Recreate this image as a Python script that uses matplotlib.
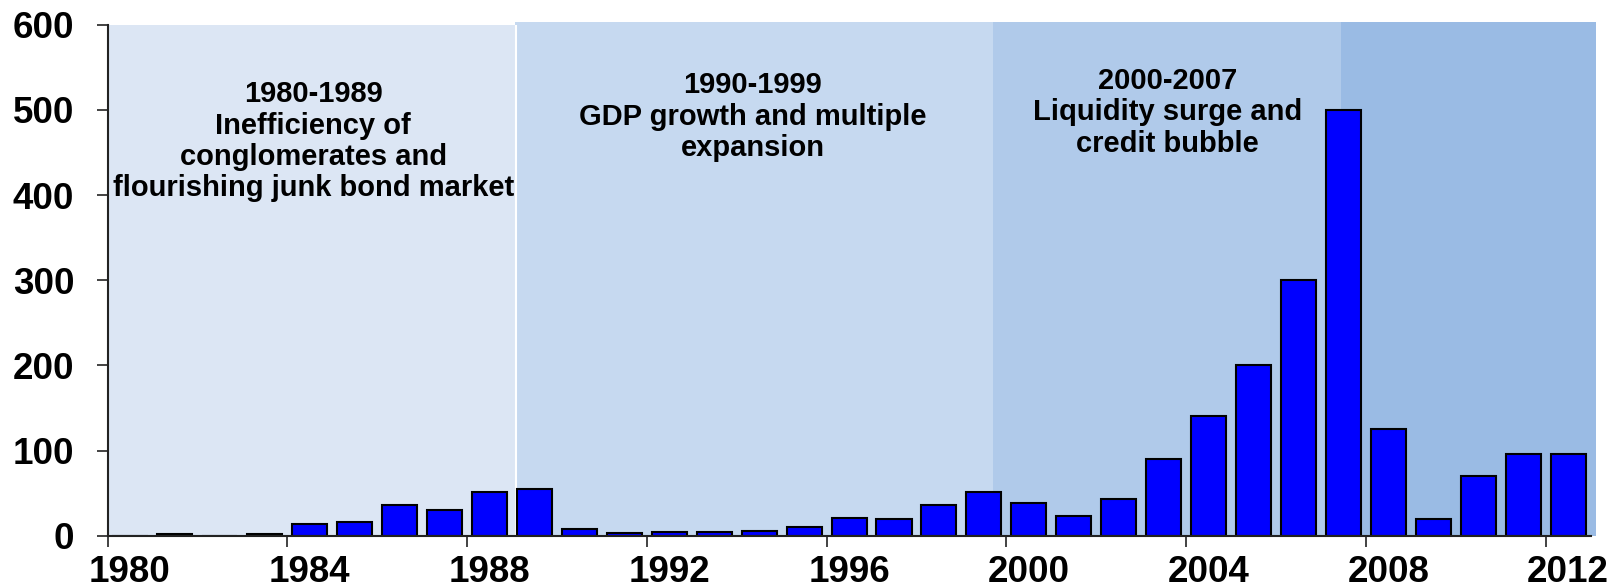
import matplotlib

matplotlib.use("Agg")
import matplotlib.pyplot as plt

plt.rcParams["font.family"] = ["Liberation Sans", "DejaVu Sans"]
plt.rcParams["font.weight"] = "bold"

# annual values, 1980-2012
years = list(range(1980, 2013))
values = [0, 2, 0, 2, 14, 16, 36, 30, 51, 55,
          8, 3, 4, 4, 6, 10, 21, 19, 36, 51,
          38, 23, 43, 90, 141, 200, 300, 500, 125, 20,
          70, 96, 96]

tick_years = list(range(1980, 2013, 4))

# shaded periods (edges)
period_edges = [1979.5, 1988.56, 1999.21, 2006.95, 2012.63]
period_colors = ["#DCE6F4", "#C6D9F0", "#B0CAEA", "#9ABBE4"]
period_labels = [
    "1980-1989\nInefficiency of\nconglomerates and\nflourishing junk bond market",
    "1990-1999\nGDP growth and multiple\nexpansion",
    "2000-2007\nLiquidity surge and\ncredit bubble",
]
label_pos = [(1984.08, 463), (1993.86, 492), (2003.08, 497)]

fig = plt.figure(figsize=(16.12, 5.88), dpi=100)
ax = fig.add_axes([0.0667, 0.089, 0.92, 0.869])

for i, c in enumerate(period_colors):
    top = 600 if i == 0 else 603
    ax.fill_between([period_edges[i], period_edges[i + 1]], 0, top,
                    color=c, lw=0, zorder=0, clip_on=False)
# thin white gap between first two periods
ax.axvline(period_edges[1] + 0.02, ymax=1.0, color="white", lw=1.5, zorder=0.5)

ax.bar(years, values, width=0.78, color="#0000FF", edgecolor="black",
       linewidth=1.5, zorder=2)

for (x, y), txt in zip(label_pos, period_labels):
    ax.text(x, y, txt, ha="center", va="center", fontsize=21,
            fontweight="bold", linespacing=1.15, zorder=3)

ax.set_xlim(1979.5, 2012.5)
ax.set_ylim(0, 600)
ax.set_yticks(range(0, 601, 100))
# labels sit on the bars, tick marks sit between categories
ax.set_xticks(tick_years)
ax.set_xticklabels([str(y) for y in tick_years])
ax.set_xticks([y - 0.5 for y in tick_years], minor=True)

ax.tick_params(axis="both", labelsize=26.5, direction="out", length=8,
               width=1.2, color="#222222")
ax.tick_params(axis="y", pad=16)
ax.tick_params(axis="x", which="major", length=0, pad=14)
ax.tick_params(axis="x", which="minor", length=8, width=1.2,
               color="#222222", direction="out")
for lab in ax.get_xticklabels() + ax.get_yticklabels():
    lab.set_fontweight("bold")

for s in ["top", "right"]:
    ax.spines[s].set_visible(False)
for s in ["left", "bottom"]:
    ax.spines[s].set_color("#222222")
    ax.spines[s].set_linewidth(1.5)
    ax.spines[s].set_zorder(4)

fig.savefig("out.png", dpi=100)
